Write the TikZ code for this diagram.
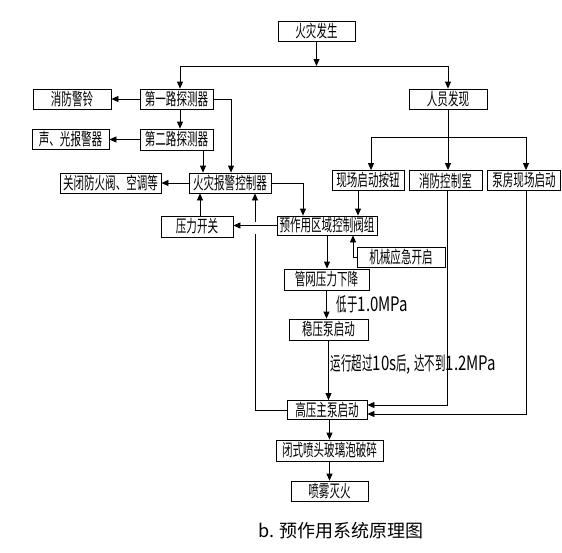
\documentclass[tikz,border=0pt]{standalone}
\usepackage{fontspec}
\usetikzlibrary{arrows.meta,positioning,calc}
\newfontfamily\cadfont{Noto Sans CJK SC}[FakeStretch=0.62]
\newfontfamily\tightfont{Noto Sans CJK SC}[FakeStretch=0.55]
\newfontfamily\latfont{Noto Sans CJK SC}[FakeStretch=0.75]
\newfontfamily\capfont{Noto Sans CJK SC}
\newcommand{\narrow}[1]{{\tightfont\fontsize{19}{19}\selectfont #1}}

\begin{document}
\begin{tikzpicture}[x=1pt,y=-1pt,
  blk/.style={draw,line width=0.8pt,minimum height=20pt,inner sep=0pt,
              font=\cadfont\fontsize{17}{17}\selectfont},
  flow/.style={-{Triangle[length=7pt,width=6pt]},line width=0.8pt},
  note/.style={font=\latfont\fontsize{20}{20}\selectfont,inner sep=0pt},
]
\useasboundingbox (0,0) rectangle (562,552);
\node[blk,minimum width=77pt] (fire) at (316.5,31) {火灾发生};
\node[blk,minimum width=78pt] (people) at (448,99) {人员发现};
\node[blk,minimum width=73pt] (det1) at (176.5,99) {第一路探测器};
\node[blk,minimum width=78pt] (bell) at (72,99) {消防警铃};
\node[blk,minimum width=73pt,minimum height=21pt] (det2) at (176.5,139.5) {第二路探测器};
\node[blk,minimum width=77pt] (sound) at (70.5,139.5) {声、光报警器};
\node[blk,minimum width=82pt] (alarm) at (230,183) {火灾报警控制器};
\node[blk,minimum width=101pt] (damper) at (110.5,183) {关闭防火阀、空调等};
\node[blk,minimum width=72pt,minimum height=21pt] (pswitch) at (197,226.5) {压力开关};
\node[blk,minimum width=72pt] (button) at (368,180.5) {现场启动按钮};
\node[blk,minimum width=73pt] (ctrlroom) at (445.5,180.5) {消防控制室};
\node[blk,minimum width=73pt] (pumproom) at (524,180.5) {泵房现场启动};
\node[blk,minimum width=100pt,minimum height=19pt] (valve) at (327,225.5) {预作用区域控制阀组};
\node[blk,minimum width=88pt] (manual) at (401,257) {机械应急开启};
\node[blk,minimum width=85pt,minimum height=21pt] (drop) at (326.5,279.5) {管网压力下降};
\node[blk,minimum width=79pt,minimum height=21pt] (jockey) at (328.5,329.5) {稳压泵启动};
\node[blk,minimum width=80pt,minimum height=19pt] (mainpump) at (327,410) {高压主泵启动};
\node[blk,minimum width=107pt,minimum height=21pt] (bulb) at (329.5,450.5) {闭式喷头玻璃泡破碎};
\node[blk,minimum width=77pt] (spray) at (329.5,491) {喷雾灭火};
\node[font=\capfont\fontsize{18}{18}\selectfont] (caption) at (341,531) {b. 预作用系统原理图};
% fire found by detectors or by people
\coordinate (split) at (316.5,66);
\coordinate (branch) at (448,137);
\coordinate (hop) at (255,227);
\draw[flow] (fire) -- (split);
\draw[flow] (split) -| ([xshift=3.5pt]det1.north);
\draw[flow] (split) -| (people);
\draw[flow] (det1) -- (bell);
\draw[flow] ([xshift=3.5pt]det1.south) -- ([xshift=3.5pt]det2.north);
\draw[flow] (det2) -- (sound);
\draw[flow] ([xshift=26.5pt]det2.south) -- ([xshift=-27pt]alarm.north);
\draw[flow] (det1.east) -| ([xshift=1pt]alarm.north);
\draw[flow] (alarm) -- (damper);
\draw[flow] (alarm.east) -| ([xshift=-24pt]valve.north);
\draw[line width=0.8pt] (people) -- (branch);
\draw[flow] (branch) -| ([xshift=3pt]button.north);
\draw[flow] (branch) -- ([xshift=2.5pt]ctrlroom.north);
\draw[flow] (branch) -| ([xshift=2pt]pumproom.north);
\draw[flow] ([xshift=-10pt]button.south) -- ([xshift=31pt]valve.north);
\draw[flow] ([xshift=1.5pt]ctrlroom.south) |- ([yshift=5pt]mainpump.east);
\draw[flow] ([xshift=2pt]pumproom.south) |- ([yshift=-4pt]mainpump.east);
% valve group and pumps
\draw[flow] (valve.west) -- (valve.west -| pswitch.east);
\draw[flow] ([xshift=3pt]pswitch.north) -- ([xshift=-30pt]alarm.south);
\draw[line width=0.8pt] (mainpump.west) -| ([yshift=-7pt]hop);
\draw[flow] ([yshift=5pt]hop) -- (alarm.south -| hop);
\draw[flow] (valve.south) -- (valve.south |- drop.north);
\draw[flow] (manual.west) -| ([xshift=26pt]valve.south);
\draw[flow] (drop.south) -- (drop.south |- jockey.north)
  node[note,midway,right=10pt]{\narrow{低于}1.0MPa};
\draw[flow] (jockey.south) -- (jockey.south |- mainpump.north)
  node[note,pos=0.4,right=2pt]{\narrow{运行超过}10s\narrow{后}, \narrow{达不到}1.2MPa};
\draw[flow] (bulb.north |- mainpump.south) -- (bulb);
\draw[flow] (bulb) -- (spray);
\end{tikzpicture}
\end{document}
